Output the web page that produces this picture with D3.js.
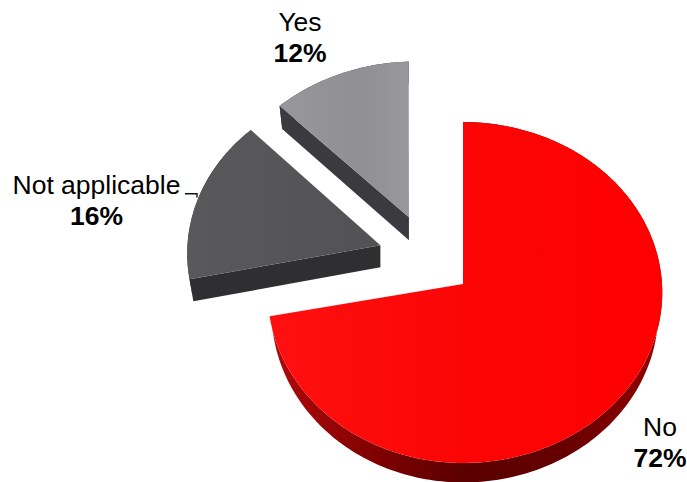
<!DOCTYPE html>
<html>
<head>
<meta charset="utf-8">
<script src="https://cdn.jsdelivr.net/npm/d3@7/dist/d3.min.js"></script>
<style>
html,body{margin:0;padding:0;background:#fff}
svg{display:block}
text{font-family:"Liberation Sans",Arial,sans-serif;font-size:26.5px;fill:#000;text-anchor:middle}
</style>
</head>
<body>
<svg id="chart" width="687" height="482"></svg>
<script>
const categories = ["No", "Not applicable", "Yes"];
const shares = [72, 16, 12];
const shareLabels = ["72%", "16%", "12%"];

const topColors = ["url(#redTop)", "url(#slateTop)", "url(#greyTop)"];
const wallColors = ["url(#redWall)", "#2f2f31", "#3b3b3f"];
// Exploded slice offsets in units of the pie radius, on the pie's own plane.
const explodeX = [0, -0.42, -0.277];
const explodeY = [0, 0.23, 0.40];
// Small per-slice corrections to each rim's shape, as the 3D camera distorts them.
const leftScaleX = [0.98, 0.98, 1];
const rimShearX = [0, -0.035, -0.015];
const rimShearY = [0, 0.015, 0.035];
const sliceDepth = [19.5, 22, 23];
const labelX = [660, 96.5, 300];
const labelY = [436, 194, 31];

const svg = d3.select("#chart");

// Tilted pie: plane coordinates go through a small perspective divide.
const apexX = 463, apexY = 284;
const radiusX = 199, radiusY = 170, persp = 0.05;
const floorScale = 0.98;

function project(x, y) {
  const w = 1 + persp * y;
  return [apexX + radiusX * x / w, apexY - radiusY * y / w];
}

const defs = svg.append("defs");
function gradient(id, stops) {
  const g = defs.append("linearGradient").attr("id", id)
    .attr("x1", 0).attr("y1", 0).attr("x2", 1).attr("y2", 0);
  stops.forEach(([o, c]) => g.append("stop").attr("offset", o).attr("stop-color", c));
}
gradient("redTop", [[0, "#ff1010"], [0.5, "#fb0505"], [1, "#ff0000"]]);
gradient("slateTop", [[0, "#59595b"], [1, "#525254"]]);
gradient("greyTop", [[0, "#97979c"], [0.6, "#8f8f94"], [1, "#98989c"]]);
gradient("redWall", [[0, "#b30a0a"], [0.3, "#7a0000"], [0.5, "#5a0000"], [0.75, "#660000"], [1, "#950000"]]);

const pie = d3.pie().sort(null).value(d => d);
const arcs = pie(shares);
const line = d3.line();

// Rim points along one slice's outer arc, sampled about once a degree.
function rim(arc, i) {
  const n = Math.max(2, Math.ceil((arc.endAngle - arc.startAngle) / 0.02));
  return d3.range(n + 1).map(k => {
    const a = arc.startAngle + (arc.endAngle - arc.startAngle) * k / n;
    const sx = Math.sin(a), cy = Math.cos(a);
    return project(
      explodeX[i] + (sx < 0 ? leftScaleX[i] : 1) * sx + rimShearX[i] * cy,
      explodeY[i] + cy + rimShearY[i] * sx
    );
  });
}

// Back slices first so the large slice sits on top of them.
[2, 1, 0].forEach(i => {
  const arc = arcs[i];
  const g = svg.append("g").attr("class", "slice");
  const hubTop = project(explodeX[i], explodeY[i]);
  const toFloor = p => [hubTop[0] + (p[0] - hubTop[0]) * floorScale, p[1] + sliceDepth[i]];
  const upper = rim(arc, i);
  const under = upper.map(toFloor);
  const hubLow = toFloor(hubTop);

  // Side walls: the outer band and the radial face at the slice's start angle.
  const band = upper.concat(under.slice().reverse());
  g.append("path").attr("d", line(band) + "Z").attr("fill", wallColors[i]);
  g.append("path")
    .attr("d", line([hubTop, upper[0], under[0], hubLow]) + "Z")
    .attr("fill", wallColors[i]);

  // Top face.
  g.append("path").attr("d", line([hubTop, ...upper]) + "Z").attr("fill", topColors[i]);
});

// Leader from the label to its slice.
svg.append("path")
  .attr("d", line([[185, 193.7], [197, 193.7], [197, 197.5]]))
  .attr("fill", "none").attr("stroke", "#111").attr("stroke-width", 1.4);

categories.forEach((c, i) => {
  const t = svg.append("text").attr("x", labelX[i]).attr("y", labelY[i]);
  t.append("tspan").text(c);
  t.append("tspan").attr("x", labelX[i]).attr("dy", 31).attr("font-weight", "bold").text(shareLabels[i]);
});
</script>
</body>
</html>
